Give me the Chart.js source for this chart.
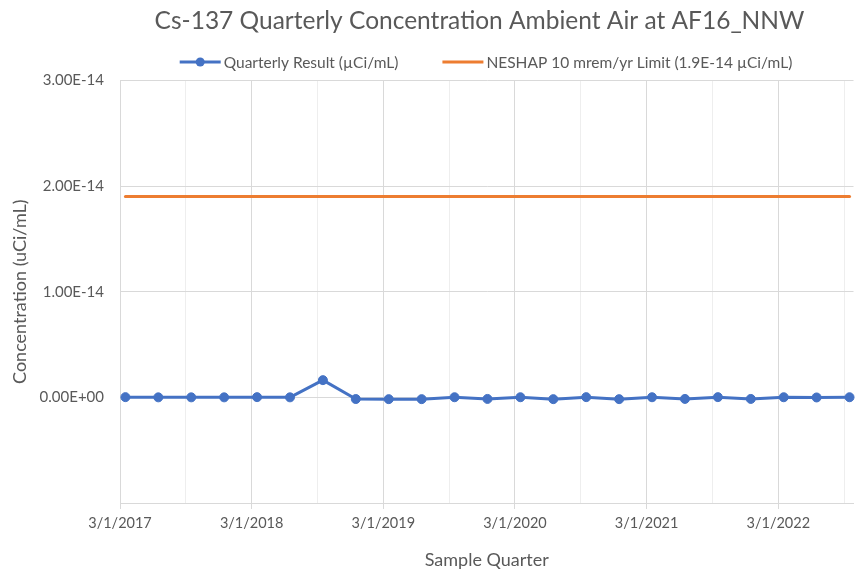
<!DOCTYPE html>
<html>
<head>
<meta charset="utf-8">
<script src="https://cdn.jsdelivr.net/npm/chart.js@4.4.1/dist/chart.umd.min.js"></script>
<style>
  html, body { margin: 0; padding: 0; background: #fff; }
  #wrap { width: 859px; height: 571px; }
</style>
</head>
<body>
<div id="wrap"><canvas id="chart"></canvas></div>
<script>
// sample dates (one per quarter) and Cs-137 results in uCi/mL
const sampleDates = [
    '3/16/2017', '6/16/2017', '9/16/2017', '12/16/2017',
    '3/16/2018', '6/16/2018', '9/16/2018', '12/16/2018',
    '3/16/2019', '6/16/2019', '9/16/2019', '12/16/2019',
    '3/16/2020', '6/16/2020', '9/16/2020', '12/16/2020',
    '3/16/2021', '6/16/2021', '9/16/2021', '12/16/2021',
    '3/16/2022', '6/16/2022', '9/16/2022'
];
const quarterlyResult = [
    2e-17, 0, 0, 0,
    2e-17, 0, 1.63e-15, -1.6e-16,
    -1.7e-16, -1.7e-16, 1e-17, -1.5e-16,
    1e-17, -1.7e-16, 2e-17, -1.7e-16,
    1e-17, -1.5e-16, 2e-17, -1.5e-16,
    1e-17, -1e-17, 1e-17
];
const neshapLimit = 1.9e-14;
const yTicks = [-1e-14, 0, 1e-14, 2e-14, 3e-14];
const axisStart = '3/1/2017';
const axisEnd = '9/27/2022';

const seriesNames = ['Quarterly Result (µCi/mL)', 'NESHAP 10 mrem/yr Limit (1.9E-14 µCi/mL)'];
const seriesColors = ['#4472C4', '#ED7D31'];

// x axis works in months counted from 3/1/2017
function monthsFromStart(dateStr) {
    const [m, d, y] = dateStr.split('/').map(Number);
    return (y - 2017) * 12 + (m - 3) + (d - 1) / 30.44;
}

function sciLabel(v) {
    if (v < 0) return '';
    if (Math.abs(v) < 1e-20) return '0.00E+00';
    const [mant, exp] = v.toExponential(2).split('e');
    const e = parseInt(exp, 10);
    return mant + 'E' + (e < 0 ? '-' : '+') + String(Math.abs(e)).padStart(2, '0');
}

const xMin = monthsFromStart(axisStart);
const xMax = monthsFromStart(axisEnd);
const xTicks = [];
for (let v = 0; v <= 66; v += 6) xTicks.push(v);

const resultPoints = sampleDates.map((d, i) => ({ x: monthsFromStart(d), y: quarterlyResult[i] }));
const limitPoints = sampleDates.map(d => ({ x: monthsFromStart(d), y: neshapLimit }));

// legend drawn as one row (line + marker + text), like the spreadsheet legend
const legendRow = {
    id: 'legendRow',
    afterLayout(chart) {
        // title centred over the plot side of the sheet
        chart.titleBlock.left = 100;
        chart.titleBlock.right = 859;
    },
    afterDraw(chart) {
        const ctx = chart.ctx;
        const lineLen = 41, textGap = 3, itemGap = 44, y = 62;
        ctx.save();
        ctx.font = '15.5px Lato';
        const widths = chart.data.datasets.map(ds => ctx.measureText(ds.label).width);
        let total = 0;
        widths.forEach((w, i) => { total += lineLen + textGap + w + (i ? itemGap : 0); });
        let x = 486 - total / 2;
        chart.data.datasets.forEach((ds, i) => {
            ctx.strokeStyle = ds.borderColor;
            ctx.lineWidth = ds.borderWidth;
            ctx.beginPath();
            ctx.moveTo(x, y);
            ctx.lineTo(x + lineLen, y);
            ctx.stroke();
            if (ds.pointRadius > 0) {
                ctx.fillStyle = ds.borderColor;
                ctx.beginPath();
                ctx.arc(x + lineLen / 2, y, ds.pointRadius, 0, Math.PI * 2);
                ctx.fill();
            }
            ctx.fillStyle = '#595959';
            ctx.textBaseline = 'middle';
            ctx.textAlign = 'left';
            ctx.fillText(ds.label, x + lineLen + textGap, y + 1);
            x += lineLen + textGap + widths[i] + itemGap;
        });
        ctx.restore();
    }
};

Chart.defaults.font.family = 'Lato';
Chart.defaults.color = '#595959';

const ctx = document.getElementById('chart').getContext('2d');
new Chart(ctx, {
    type: 'line',
    data: {
        datasets: [
            {
                label: seriesNames[0],
                data: resultPoints,
                borderColor: seriesColors[0],
                backgroundColor: seriesColors[0],
                borderWidth: 3,
                pointRadius: 4.5,
                pointBackgroundColor: seriesColors[0],
                pointBorderColor: seriesColors[0],
                pointBorderWidth: 1,
                borderJoinStyle: 'round',
                clip: false
            },
            {
                label: seriesNames[1],
                data: limitPoints,
                borderColor: seriesColors[1],
                backgroundColor: seriesColors[1],
                borderWidth: 3,
                pointRadius: 0,
                borderCapStyle: 'round',
                clip: false
            }
        ]
    },
    options: {
        responsive: true,
        maintainAspectRatio: false,
        animation: false,
        layout: { padding: { left: 0, right: 1, top: 0, bottom: 0 } },
        plugins: {
            legend: { display: false },
            tooltip: { enabled: false },
            title: {
                display: true,
                text: 'Cs-137 Quarterly Concentration Ambient Air at AF16_NNW',
                color: '#595959',
                font: { size: 24.5, weight: 'normal' },
                padding: { top: 6, bottom: 45 }
            }
        },
        scales: {
            x: {
                type: 'linear',
                min: xMin,
                max: xMax,
                afterBuildTicks: scale => { scale.ticks = xTicks.map(v => ({ value: v })); },
                afterFit: scale => {
                    scale.height = 68;
                    scale.paddingLeft = 0;
                    scale.paddingRight = 0;
                },
                grid: {
                    color: c => (c.tick && c.tick.value % 12 === 0) ? '#d9d9d9' : '#eeeeee',
                    tickColor: c => (c.tick && c.tick.value % 12 === 0) ? '#d9d9d9' : 'rgba(0,0,0,0)',
                    tickLength: 6
                },
                border: { color: '#d9d9d9' },
                ticks: {
                    autoSkip: false,
                    maxRotation: 0,
                    padding: 6,
                    font: { size: 14.5 },
                    callback: v => v % 12 === 0 ? '3/1/' + (2017 + v / 12) : ''
                },
                title: {
                    display: true,
                    text: 'Sample Quarter',
                    font: { size: 18 },
                    padding: { top: 0, bottom: 0 }
                }
            },
            y: {
                min: yTicks[0],
                max: yTicks[yTicks.length - 1],
                afterBuildTicks: scale => { scale.ticks = yTicks.map(v => ({ value: v })); },
                afterFit: scale => { scale.width = 120; },
                grid: { color: '#d9d9d9', drawTicks: false },
                border: { color: '#d9d9d9' },
                ticks: {
                    padding: 16,
                    font: { size: 15 },
                    callback: v => sciLabel(v)
                },
                title: {
                    display: true,
                    text: 'Concentration (uCi/mL)',
                    font: { size: 18 },
                    padding: { top: 9, bottom: 0 }
                }
            }
        }
    },
    plugins: [legendRow]
});
</script>
</body>
</html>
